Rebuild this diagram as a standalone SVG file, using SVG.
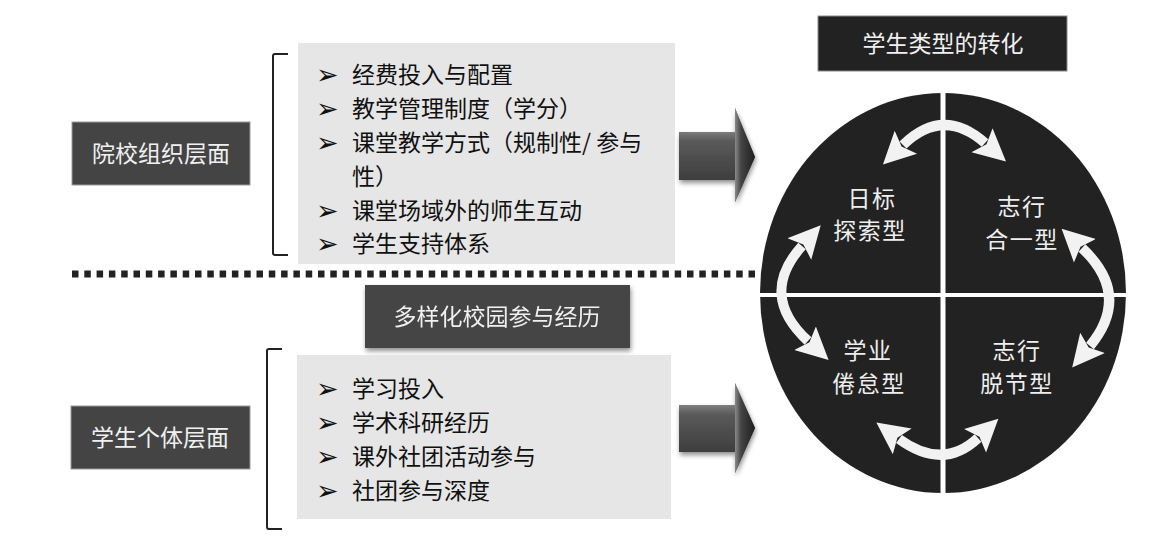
<svg xmlns="http://www.w3.org/2000/svg" width="1163" height="538" viewBox="0 0 1163 538">
<style>
.cjk{font-family:"Noto Sans CJK SC","Noto Sans",sans-serif;}
.list{font-size:23px;fill:#111;}
.bul{font-family:"DejaVu Sans",sans-serif;font-size:27px;font-weight:bold;fill:#111;}
.lbl{font-size:23px;fill:#f0f0f0;text-anchor:middle;}
.quad{font-size:23px;fill:#eeeeee;text-anchor:middle;letter-spacing:1.5px;}
.gbox{fill:#e6e6e6;}
.dbox{fill:#444444;stroke:#9a9a9a;stroke-width:1;}
.brk{fill:none;stroke:#222;stroke-width:2;}
.curv{fill:none;stroke:#f2f2f2;stroke-width:10;}
</style>
<defs>
<marker id="ah" markerUnits="userSpaceOnUse" markerWidth="34" markerHeight="34" refX="4" refY="17" orient="auto-start-reverse" viewBox="0 0 34 34">
<path d="M0,1 L32,17 L0,33 L6,17 z" fill="#f2f2f2"/>
</marker>
<linearGradient id="shaft" x1="0" y1="0" x2="0" y2="1">
<stop offset="0" stop-color="#6a6a6a"/>
<stop offset="0.15" stop-color="#a0a0a0"/>
<stop offset="0.35" stop-color="#5a5a5a"/>
<stop offset="1" stop-color="#2e2e2e"/>
</linearGradient>
<linearGradient id="head" x1="0" y1="0" x2="1" y2="0">
<stop offset="0" stop-color="#8a8a8a"/>
<stop offset="0.3" stop-color="#444"/>
<stop offset="1" stop-color="#1e1e1e"/>
</linearGradient>
<filter id="sh" x="-20%" y="-20%" width="140%" height="150%">
<feGaussianBlur in="SourceAlpha" stdDeviation="2.5"/>
<feOffset dx="1" dy="3" result="b"/>
<feComponentTransfer><feFuncA type="linear" slope="0.45"/></feComponentTransfer>
<feMerge><feMergeNode/><feMergeNode in="SourceGraphic"/></feMerge>
</filter>
</defs>
<rect width="1163" height="538" fill="#ffffff"/>

<!-- separator -->
<line x1="72" y1="274" x2="756" y2="274" stroke="#222" stroke-width="7" stroke-dasharray="6.5 5.8"/>

<g id="node-school">
<rect class="dbox" x="72" y="122" width="178" height="63"/>
<text class="cjk lbl" x="161" y="162">院校组织层面</text>
</g>

<g id="node-school-list">
<path class="brk" d="M288,54 L275,54 Q273,54 273,56 L273,253 Q273,255 275,255 L288,255"/>
<rect class="gbox" x="298" y="43" width="377" height="221"/>
<text class="bul" x="316" y="84">➢</text><text class="cjk list" x="352" y="83">经费投入与配置</text>
<text class="bul" x="316" y="118">➢</text><text class="cjk list" x="352" y="117">教学管理制度（学分）</text>
<text class="bul" x="316" y="152">➢</text><text class="cjk list" x="352" y="151">课堂教学方式（规制性/ 参与</text>
<text class="cjk list" x="352" y="185">性）</text>
<text class="bul" x="316" y="220">➢</text><text class="cjk list" x="352" y="219">课堂场域外的师生互动</text>
<text class="bul" x="316" y="253">➢</text><text class="cjk list" x="352" y="252">学生支持体系</text>
</g>

<g id="node-experience" filter="url(#sh)">
<rect x="365" y="285" width="265" height="63" fill="#444444"/>
<text class="cjk lbl" x="497" y="325">多样化校园参与经历</text>
</g>

<g id="node-student">
<rect class="dbox" x="71" y="406" width="179" height="63"/>
<text class="cjk lbl" x="160" y="446">学生个体层面</text>
</g>

<g id="node-student-list">
<path class="brk" d="M282,349 L269,349 Q267,349 267,351 L267,527 Q267,529 269,529 L282,529"/>
<rect class="gbox" x="297" y="355" width="374" height="164"/>
<text class="bul" x="316" y="398">➢</text><text class="cjk list" x="352" y="397">学习投入</text>
<text class="bul" x="316" y="432">➢</text><text class="cjk list" x="352" y="431">学术科研经历</text>
<text class="bul" x="316" y="466">➢</text><text class="cjk list" x="352" y="465">课外社团活动参与</text>
<text class="bul" x="316" y="500">➢</text><text class="cjk list" x="352" y="499">社团参与深度</text>
</g>

<g id="node-title">
<rect x="818" y="16" width="249" height="55" fill="#222222" stroke="#8a8a8a" stroke-width="1"/>
<text class="cjk lbl" x="943" y="52">学生类型的转化</text>
</g>

<g id="node-circle">
<ellipse cx="943" cy="293" rx="183" ry="200" fill="#222222"/>
<rect x="940.5" y="90" width="5" height="406" fill="#ffffff"/>
<rect x="756" y="293" width="374" height="4" fill="#ffffff"/>
</g>

<g id="node-q1"><text class="cjk quad" x="872" y="207">日标</text><text class="cjk quad" x="870" y="239">探索型</text></g>
<g id="node-q2"><text class="cjk quad" x="1022" y="215">志行</text><text class="cjk quad" x="1022" y="248">合一型</text></g>
<g id="node-q3"><text class="cjk quad" x="868" y="359">学业</text><text class="cjk quad" x="869" y="392">倦怠型</text></g>
<g id="node-q4"><text class="cjk quad" x="1017" y="359">志行</text><text class="cjk quad" x="1017" y="392">脱节型</text></g>

<g id="connectors">
<polygon points="679,132 735,132 735,108 755,157 735,202 735,180 679,180" fill="url(#shaft)" filter="url(#sh)"/>
<polygon points="735,108 755,157 735,202" fill="url(#head)"/>
<polygon points="679,405 735,405 735,383 755,428 735,473 735,452 679,452" fill="url(#shaft)" filter="url(#sh)"/>
<polygon points="735,383 755,428 735,473" fill="url(#head)"/>
<path class="curv" d="M903,145 Q943,106 985,143" marker-start="url(#ah)" marker-end="url(#ah)"/>
<path class="curv" d="M802,246 Q758,295 808,341" marker-start="url(#ah)" marker-end="url(#ah)"/>
<path class="curv" d="M1082,248 Q1132,295 1090,346" marker-start="url(#ah)" marker-end="url(#ah)"/>
<path class="curv" d="M899,439 Q943,471 978,438" marker-start="url(#ah)" marker-end="url(#ah)"/>
</g>
</svg>
